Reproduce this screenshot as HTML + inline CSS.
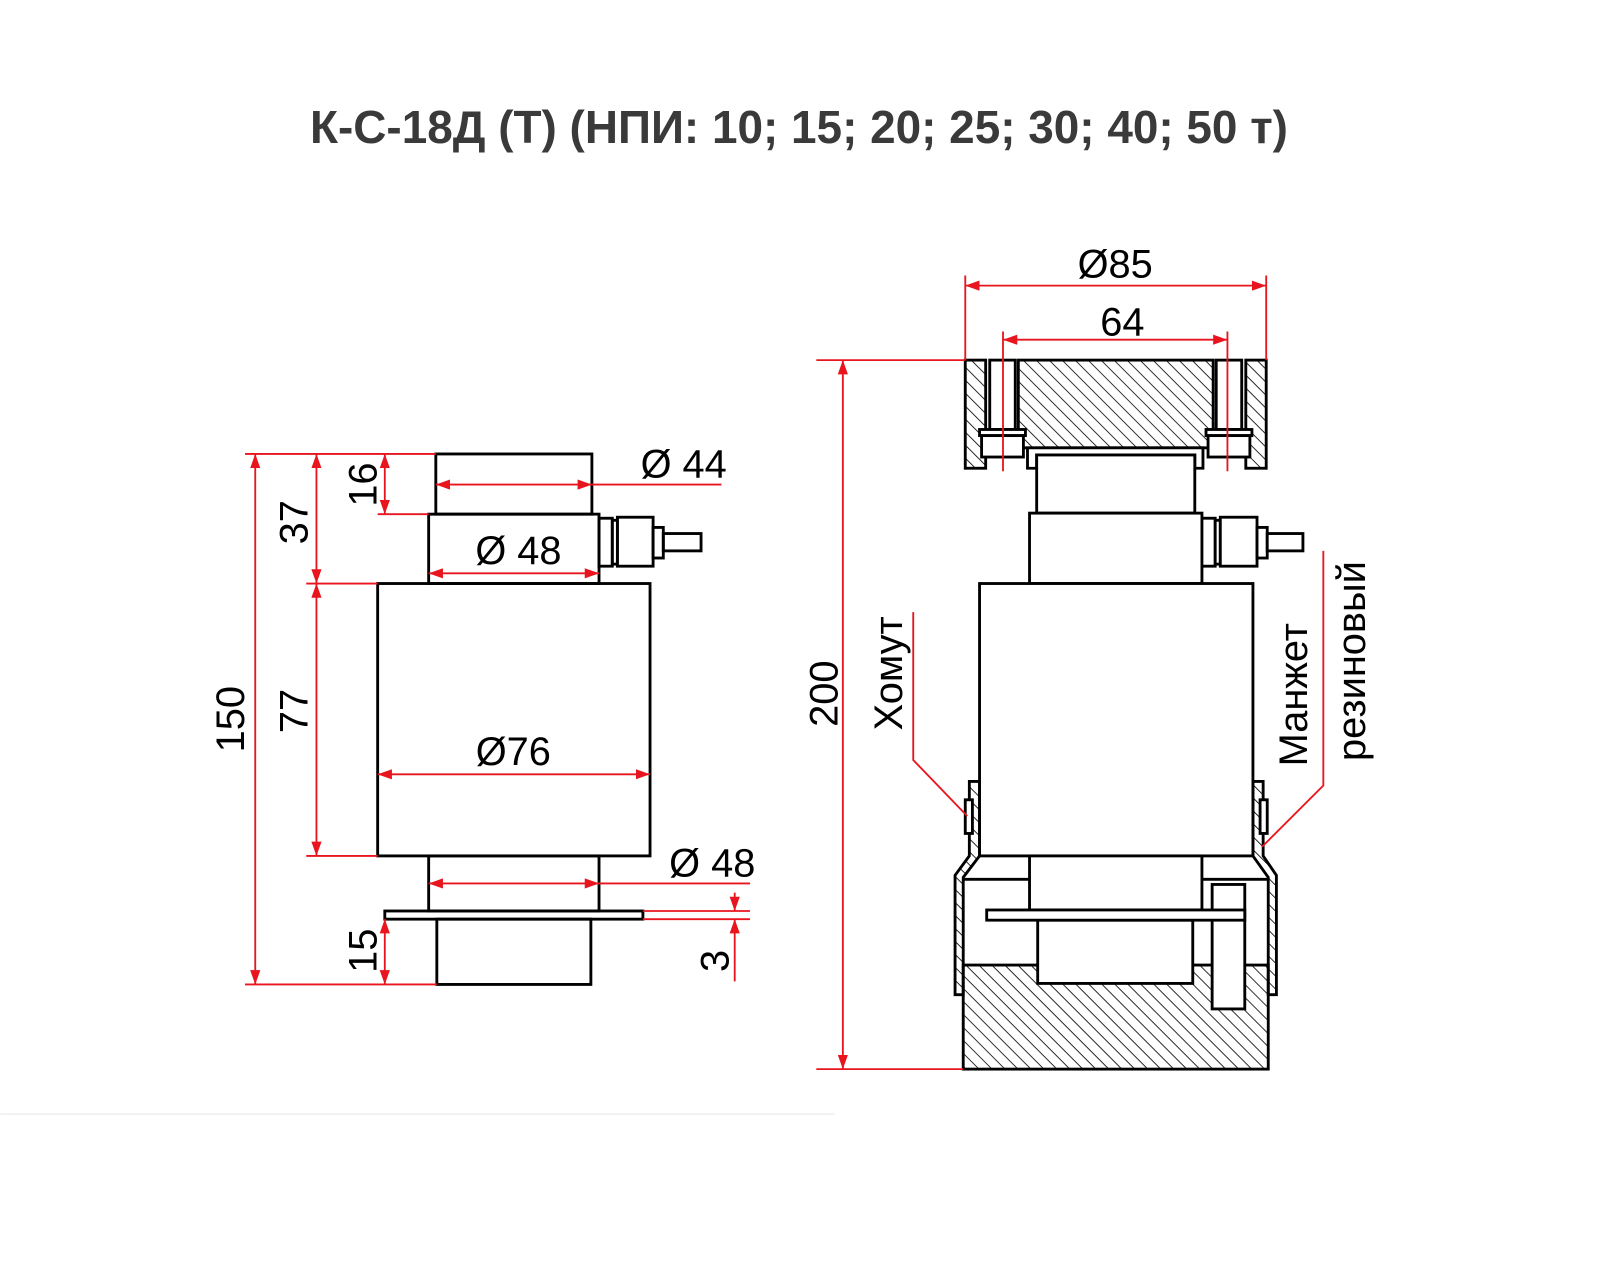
<!DOCTYPE html>
<html><head><meta charset="utf-8"><style>html,body{margin:0;padding:0;background:#fff}svg{display:block}</style></head>
<body>
<svg width="1600" height="1266" viewBox="0 0 1568 1241" xmlns="http://www.w3.org/2000/svg" font-family="Liberation Sans, sans-serif">
<defs>
<pattern id="h" width="9" height="9" patternUnits="userSpaceOnUse" patternTransform="rotate(-45)">
<line x1="0" y1="0" x2="0" y2="9" stroke="#000" stroke-width="1.6"/></pattern>
<marker id="a" viewBox="0 0 14 10" refX="14" refY="5" markerWidth="14" markerHeight="10" markerUnits="userSpaceOnUse" orient="auto-start-reverse"><path d="M0,0L14,5L0,10z" fill="#e8141e"/></marker>
</defs>
<rect width="1568" height="1241" fill="#fff"/>
<text x="783" y="140" text-anchor="middle" font-size="45" font-weight="bold" fill="#3a3a3a">К-С-18Д (Т) (НПИ: 10; 15; 20; 25; 30; 40; 50 т)</text>
<line x1="0" y1="1092" x2="818" y2="1092" stroke="#eee" stroke-width="1.5"/>

<!-- LEFT VIEW -->
<g fill="none" stroke="#000" stroke-width="2.8">
<rect x="427" y="445" width="153" height="59"/>
<rect x="420" y="504" width="167" height="68"/>
<rect x="587" y="508" width="13" height="47"/>
<rect x="600" y="510" width="5" height="43"/>
<rect x="605" y="507" width="35" height="48"/>
<rect x="640" y="517" width="10" height="30"/>
<rect x="650" y="523" width="37" height="17"/>
<rect x="370" y="572" width="267" height="267"/>
<rect x="420" y="839" width="167" height="54"/>
<rect x="377" y="893" width="253" height="8"/>
<rect x="428" y="901" width="151" height="64"/>
</g>
<g stroke="#e8141e" stroke-width="1.8" fill="none">
<line x1="240" y1="445" x2="427" y2="445"/><line x1="240" y1="965" x2="428" y2="965"/>
<line x1="300" y1="572" x2="370" y2="572"/><line x1="300" y1="839" x2="370" y2="839"/>
<line x1="370" y1="504" x2="420" y2="504"/>
<line x1="250" y1="445" x2="250" y2="965" marker-start="url(#a)" marker-end="url(#a)"/>
<line x1="310" y1="445" x2="310" y2="572" marker-start="url(#a)" marker-end="url(#a)"/>
<line x1="310" y1="572" x2="310" y2="839" marker-start="url(#a)" marker-end="url(#a)"/>
<line x1="377" y1="445" x2="377" y2="504" marker-start="url(#a)" marker-end="url(#a)"/>
<line x1="377" y1="901" x2="377" y2="965" marker-start="url(#a)" marker-end="url(#a)"/>
<line x1="427" y1="475" x2="580" y2="475" marker-start="url(#a)" marker-end="url(#a)"/><line x1="580" y1="475" x2="707" y2="475"/>
<line x1="420" y1="562" x2="587" y2="562" marker-start="url(#a)" marker-end="url(#a)"/>
<line x1="370" y1="759" x2="637" y2="759" marker-start="url(#a)" marker-end="url(#a)"/>
<line x1="420" y1="866" x2="587" y2="866" marker-start="url(#a)" marker-end="url(#a)"/><line x1="587" y1="866" x2="735" y2="866"/>
<line x1="630" y1="893" x2="735" y2="893"/><line x1="630" y1="901" x2="735" y2="901"/>
<line x1="720" y1="875" x2="720" y2="893" marker-end="url(#a)"/>
<line x1="720" y1="962" x2="720" y2="901" marker-end="url(#a)"/>
</g>
<g font-size="39" fill="#000" text-anchor="middle">
<text x="670" y="468">Ø 44</text>
<text x="508" y="553">Ø 48</text>
<text x="503" y="750">Ø76</text>
<text x="698" y="859">Ø 48</text>
<text transform="translate(239,705) rotate(-90)">150</text>
<text transform="translate(301,512) rotate(-90)">37</text>
<text transform="translate(369,475) rotate(-90)">16</text>
<text transform="translate(301,697) rotate(-90)">77</text>
<text transform="translate(369,932) rotate(-90)">15</text>
<text transform="translate(714,942) rotate(-90)">3</text>
</g>

<!-- RIGHT VIEW -->
<g stroke="#000" stroke-width="2.8">
<rect x="946" y="353" width="20" height="106" fill="url(#h)"/>
<rect x="1221" y="353" width="20" height="106" fill="url(#h)"/>
<rect x="998" y="353" width="191" height="86" fill="url(#h)"/>
<g fill="#fff">
<rect x="970" y="353" width="25" height="68"/>
<rect x="960" y="421" width="45" height="6"/>
<rect x="962" y="427" width="41" height="21"/>
<rect x="1192" y="353" width="25" height="68"/>
<rect x="1182" y="421" width="45" height="6"/>
<rect x="1184" y="427" width="41" height="21"/>
<path d="M1007,459 V439 H1179 V459 H1171 V446 H1016 V459 Z"/>
<rect x="1016" y="446" width="155" height="57"/>
<rect x="1009" y="503" width="169" height="69"/>
<rect x="1178" y="508" width="13" height="47"/>
<rect x="1191" y="510" width="5" height="43"/>
<rect x="1196" y="507" width="36" height="48"/>
<rect x="1232" y="517" width="10" height="30"/>
<rect x="1242" y="523" width="35" height="17"/>
<rect x="960" y="572" width="268" height="267"/>
</g>
<rect x="944" y="946" width="299" height="102" fill="url(#h)"/>
<path d="M950,766 H960 V839 L944,860 V975 H936 V858 L950,839 Z" fill="url(#h)"/>
<path d="M1238,766 H1228 V839 L1243,860 V975 H1251 V858 L1238,839 Z" fill="url(#h)"/>
<rect x="946" y="784" width="7" height="33" fill="#fff"/>
<rect x="1235" y="784" width="7" height="33" fill="#fff"/>
<g fill="#fff">
<line x1="944" y1="862" x2="1009" y2="862"/><line x1="1178" y1="862" x2="1243" y2="862"/>
<rect x="1009" y="839" width="169" height="53"/>
<rect x="1017" y="902" width="152" height="62"/>
<rect x="1188" y="867" width="32" height="122"/>
<rect x="967" y="892" width="253" height="10"/>
</g>
</g>
<g stroke="#e8141e" stroke-width="1.8" fill="none">
<line x1="800" y1="353" x2="946" y2="353"/><line x1="800" y1="1048" x2="944" y2="1048"/>
<line x1="826" y1="353" x2="826" y2="1048" marker-start="url(#a)" marker-end="url(#a)"/>
<line x1="946" y1="270" x2="946" y2="353"/><line x1="1241" y1="270" x2="1241" y2="353"/>
<line x1="946" y1="280" x2="1241" y2="280" marker-start="url(#a)" marker-end="url(#a)"/>
<line x1="983" y1="325" x2="983" y2="462"/><line x1="1203" y1="325" x2="1203" y2="462"/>
<line x1="983" y1="333" x2="1203" y2="333" marker-start="url(#a)" marker-end="url(#a)"/>
<polyline points="895,600 895,745 948,800"/>
<polyline points="1297,540 1297,770 1237,830"/>
</g>
<g font-size="39" fill="#000" text-anchor="middle">
<text x="1093" y="272">Ø85</text>
<text x="1100" y="329">64</text>
<text transform="translate(821,680) rotate(-90)">200</text>
</g>
<g font-size="39" fill="#000" text-anchor="middle">
<text transform="translate(884,660) rotate(-90)">Хомут</text>
<text transform="translate(1281,681) rotate(-90)">Манжет</text>
<text transform="translate(1338,648) rotate(-90)">резиновый</text>
</g>
</svg>
</body></html>
